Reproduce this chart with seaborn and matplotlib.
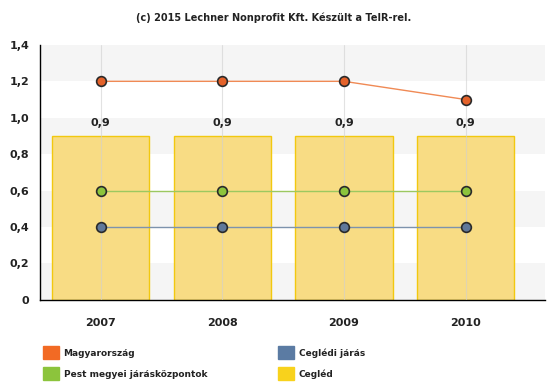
import numpy as np
import pandas as pd
import matplotlib
matplotlib.use("Agg")
import matplotlib.pyplot as plt
from matplotlib.patches import Patch
import seaborn as sns

years = ["2007", "2008", "2009", "2010"]
magyarorszag = [1.2, 1.2, 1.2, 1.1]
pest_jaraskozpontok = [0.6, 0.6, 0.6, 0.6]
ceglediJaras = [0.4, 0.4, 0.4, 0.4]
cegled = [0.9, 0.9, 0.9, 0.9]

yticks = [0, 0.2, 0.4, 0.6, 0.8, 1.0, 1.2, 1.4]
ytick_labels = ["0", "0,2", "0,4", "0,6", "0,8", "1,0", "1,2", "1,4"]

sns.set_style("white")
plt.rcParams["font.family"] = ["DejaVu Sans"]

fig = plt.figure(figsize=(5.48, 3.87), dpi=100)
ax = fig.add_axes([0.073, 0.225, 0.921, 0.659])

# halvány sávok a háttérben
for i, lo in enumerate(np.arange(0, 1.4, 0.2)):
    if i % 2 == 0:
        ax.axhspan(lo, lo + 0.2, color="#f5f5f5", zorder=0, lw=0)

df_bar = pd.DataFrame({"ev": years, "ertek": cegled})
sns.barplot(data=df_bar, x="ev", y="ertek", color="#f8dc84", edgecolor="#f2c80f",
            linewidth=1.0, width=0.8, saturation=1, ax=ax, zorder=2)

for x, v in enumerate(cegled):
    ax.text(x, v + 0.045, f"{v:.1f}".replace(".", ","), ha="center", va="bottom",
            fontsize=8, fontweight="bold", color="#222222", zorder=5)

series = [
    (magyarorszag, "#f08a55", "#e4622a"),
    (pest_jaraskozpontok, "#9cc860", "#8cc43c"),
    (ceglediJaras, "#7d93ad", "#60789a"),
]
for vals, lc, mc in series:
    df = pd.DataFrame({"ev": years, "ertek": vals})
    sns.lineplot(data=df, x="ev", y="ertek", color=lc, linewidth=1.0, marker="o",
                 markersize=7, markerfacecolor=mc, markeredgecolor="#2a2a2a",
                 markeredgewidth=1.2, ax=ax, zorder=4)

for x in range(len(years)):
    ax.axvline(x, color="#d0d0d0", lw=0.8, alpha=0.6, zorder=3)

ax.set_xlim(-0.5, 3.65)
ax.set_ylim(0, 1.4)
ax.set_yticks(yticks)
ax.set_yticklabels(ytick_labels)
ax.set_xlabel("")
ax.set_ylabel("")
for s in ["top", "right"]:
    ax.spines[s].set_visible(False)
for s in ["left", "bottom"]:
    ax.spines[s].set_color("black")
    ax.spines[s].set_linewidth(1.0)
ax.tick_params(axis="both", which="both", direction="out", length=4, width=0.8,
               colors="black", labelsize=8)
for lab in ax.get_xticklabels() + ax.get_yticklabels():
    lab.set_fontweight("bold")
    lab.set_color("#222222")
ax.tick_params(axis="x", pad=9)

fig.text(0.5, 0.955, "(c) 2015 Lechner Nonprofit Kft. Készült a TeIR-rel.",
         ha="center", va="center", fontsize=7, fontweight="bold", color="#222222")

columns = [
    ([Patch(color="#f26a24", label="Magyarország"),
      Patch(color="#8cc43c", label="Pest megyei járásközpontok")], 0.078),
    ([Patch(color="#5b7ba3", label="Ceglédi járás"),
      Patch(color="#f8d21c", label="Cegléd")], 0.507),
]
for handles, xpos in columns:
    leg = fig.legend(handles=handles, loc="upper left", bbox_to_anchor=(xpos, 0.105),
                     ncol=1, frameon=False, fontsize=6.5, handlelength=1.8,
                     handleheight=1.8, labelspacing=0.9, handletextpad=0.5,
                     borderaxespad=0, borderpad=0)
    for t in leg.get_texts():
        t.set_fontweight("bold")
        t.set_color("#222222")

fig.savefig("out.png", dpi=100)
